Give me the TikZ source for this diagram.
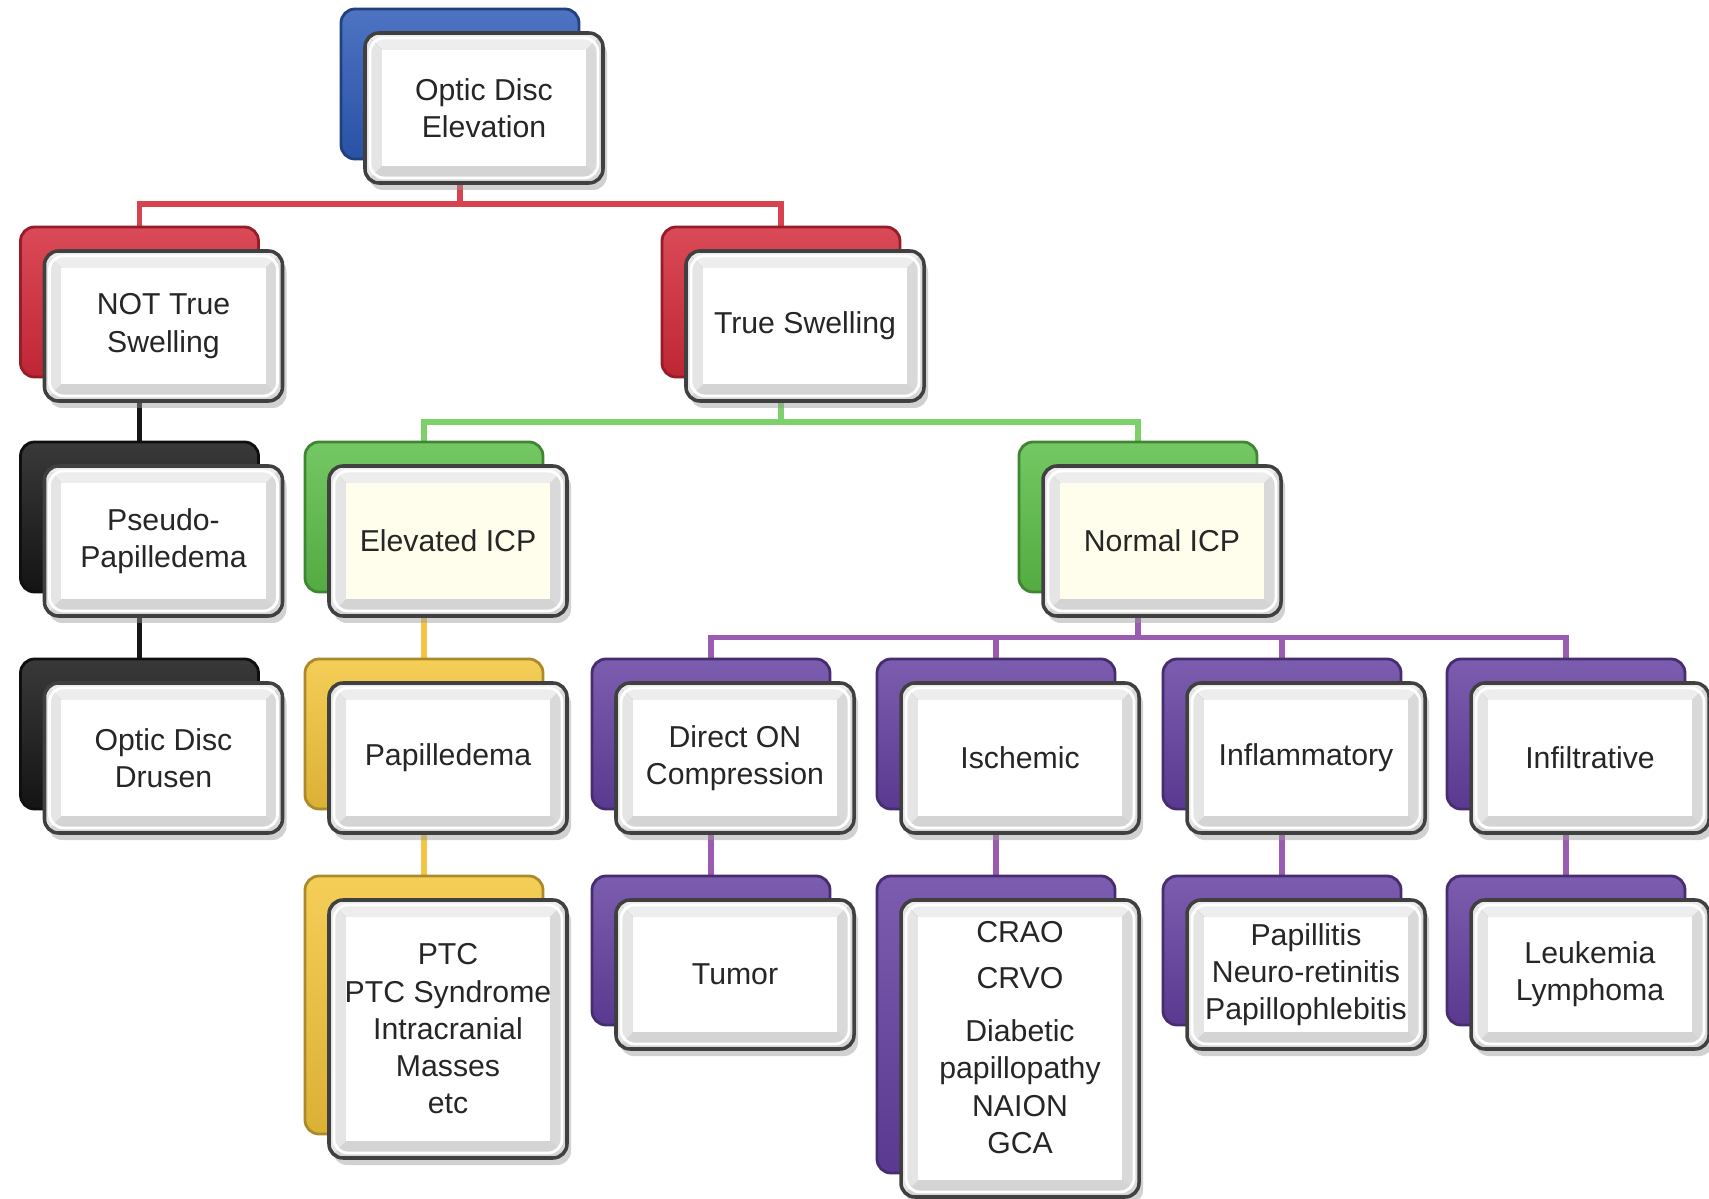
\documentclass[tikz,border=0pt]{standalone}
\usepackage{fontspec}
\setmainfont{Liberation Sans}
\usepackage{xcolor}
\usepackage{tikz}
\usetikzlibrary{shapes,shadows,backgrounds,calc}

\definecolor{boxblue}{HTML}{2E5BB7}
\definecolor{boxred}{HTML}{D42A3A}
\definecolor{boxblack}{HTML}{161616}
\definecolor{boxgreen}{HTML}{5CBE48}
\definecolor{boxgold}{HTML}{F3C53A}
\definecolor{boxpurple}{HTML}{6440A0}
\definecolor{boxcream}{HTML}{FFFDEB}
\definecolor{linered}{HTML}{D8434F}
\definecolor{linegreen}{HTML}{7CD16A}
\definecolor{linegold}{HTML}{F4C542}
\definecolor{linepurple}{HTML}{9A5CB0}

\tikzset{
  back/.style={rounded corners=1.4mm, minimum width=23.8mm, minimum height=15mm,
    draw=#1!70!black, line width=0.8pt, top color=#1!85!white, bottom color=#1!90!black},
  bevelbox/.style={rounded corners=1.4mm, minimum width=23.8mm, minimum height=15mm,
    draw=black!75, line width=1pt, text=black!85, align=center,
    font=\fontsize{8.6}{10.6}\selectfont,
    drop shadow={shadow xshift=0.4mm, shadow yshift=-0.7mm, fill=black!40, opacity=0.45},
    path picture={
      \path (path picture bounding box.north west) coordinate (pA)
            (path picture bounding box.north east) coordinate (pB)
            (path picture bounding box.south east) coordinate (pC)
            (path picture bounding box.south west) coordinate (pD);
      \path ([shift={(1.7mm,-1.7mm)}]pA) coordinate (qA)
            ([shift={(-1.7mm,-1.7mm)}]pB) coordinate (qB)
            ([shift={(-1.7mm,1.7mm)}]pC) coordinate (qC)
            ([shift={(1.7mm,1.7mm)}]pD) coordinate (qD);
      \fill[sharp corners,gray!14] (pA) -- (pB) -- (qB) -- (qA) -- cycle;
      \fill[sharp corners,gray!30] (pB) -- (pC) -- (qC) -- (qB) -- cycle;
      \fill[sharp corners,gray!34] (pC) -- (pD) -- (qD) -- (qC) -- cycle;
      \fill[sharp corners,gray!20] (pD) -- (pA) -- (qA) -- (qD) -- cycle;
      \draw[white, line width=0.8pt] ([shift={(0.5mm,-0.5mm)}]pA) rectangle ([shift={(-0.5mm,0.5mm)}]pC);
      \fill[sharp corners,#1] (qA) rectangle (qC);
    }},
  front/.style={bevelbox=white},
  frontc/.style={bevelbox=boxcream},
  link/.style={line width=0.55mm},
}

\begin{document}
\begin{tikzpicture}[x=1mm,y=-1mm]
    \useasboundingbox (0,0) rectangle (170.9,119.9);

    % level 0
    \node[back=boxblue] (top-b) at (46.0,8.4) {};
    \node[front] (top) at (48.4,10.8) {Optic Disc\\Elevation};

    % level 1
    \node[back=boxred] (nts-b) at (13.95,30.2) {};
    \node[front] (nts) at (16.35,32.6) {NOT True\\Swelling};
    \node[back=boxred] (ts-b) at (78.1,30.2) {};
    \node[front] (ts) at (80.5,32.6) {True Swelling};

    % level 2
    \node[back=boxblack] (pseudo-b) at (13.95,51.7) {};
    \node[front] (pseudo) at (16.35,54.1) {Pseudo-\\Papilledema};
    \node[back=boxgreen] (elev-b) at (42.4,51.7) {};
    \node[frontc] (elev) at (44.8,54.1) {Elevated ICP};
    \node[back=boxgreen] (normal-b) at (113.8,51.7) {};
    \node[frontc] (normal) at (116.2,54.1) {Normal ICP};

    % level 3
    \node[back=boxblack] (drusen-b) at (13.95,73.4) {};
    \node[front] (drusen) at (16.35,75.8) {Optic Disc\\Drusen};
    \node[back=boxgold] (papill-b) at (42.4,73.4) {};
    \node[front] (papill) at (44.8,75.8) {Papilledema};
    \node[back=boxpurple] (direct-b) at (71.1,73.4) {};
    \node[front] (direct) at (73.5,75.8) {Direct ON\\Compression};
    \node[back=boxpurple] (isch-b) at (99.6,73.4) {};
    \node[front] (isch) at (102.0,75.8) {Ischemic};
    \node[back=boxpurple] (inflam-b) at (128.2,73.4) {};
    \node[front] (inflam) at (130.6,75.8) {Inflammatory};
    \node[back=boxpurple] (infil-b) at (156.6,73.4) {};
    \node[front] (infil) at (159.0,75.8) {Infiltrative};

    % level 4
    \node[back=boxgold, minimum height=25.8mm] (ptc-b) at (42.4,100.5) {};
    \node[front, minimum height=25.8mm] (ptc) at (44.8,102.9) {PTC\\PTC Syndrome\\Intracranial\\Masses\\etc};
    \node[back=boxpurple, minimum height=14.9mm] (tumor-b) at (71.1,95.05) {};
    \node[front, minimum height=14.9mm] (tumor) at (73.5,97.45) {Tumor};
    \node[back=boxpurple, minimum height=29.7mm] (ischc-b) at (99.6,102.45) {};
    \node[front, minimum height=29.7mm, text depth=6.4pt] (ischc) at (102.0,104.85) {CRAO\\[2.5pt]CRVO\\[4.6pt]Diabetic\\papillopathy\\NAION\\GCA};
    \node[back=boxpurple, minimum height=14.9mm] (inflamc-b) at (128.2,95.05) {};
    \node[front, minimum height=14.9mm] (inflamc) at (130.6,97.45) {Papillitis\\Neuro-retinitis\\Papillophlebitis};
    \node[back=boxpurple, minimum height=14.9mm] (leuk-b) at (156.6,95.05) {};
    \node[front, minimum height=14.9mm] (leuk) at (159.0,97.45) {Leukemia\\Lymphoma};

    % buses
    \coordinate (bus1) at (0,20.4);
    \coordinate (bus2) at (0,42.2);
    \coordinate (bus3) at (0,63.75);

    \begin{scope}[on background layer]
    \draw[link,linered] (top-b) -- (top-b |- bus1) -| (nts-b);
    \draw[link,linered] (top-b |- bus1) -| (ts-b);
    \draw[link,boxblack] (nts-b) -- (pseudo-b);
    \draw[link,boxblack] (pseudo-b) -- (drusen-b);
    \draw[link,linegreen] (ts-b) -- (ts-b |- bus2) -| (elev-b);
    \draw[link,linegreen] (ts-b |- bus2) -| (normal-b);
    \draw[link,linegold] (elev-b) -- (papill-b);
    \draw[link,linegold] (papill-b) -- (ptc-b);
    \draw[link,linepurple] (normal-b) -- (normal-b |- bus3) -| (direct-b);
    \draw[link,linepurple] (normal-b |- bus3) -| (isch-b);
    \draw[link,linepurple] (normal-b |- bus3) -| (inflam-b);
    \draw[link,linepurple] (normal-b |- bus3) -| (infil-b);
    \draw[link,linepurple] (direct-b) -- (tumor-b);
    \draw[link,linepurple] (isch-b) -- (ischc-b);
    \draw[link,linepurple] (inflam-b) -- (inflamc-b);
    \draw[link,linepurple] (infil-b) -- (leuk-b);
    \end{scope}
\end{tikzpicture}
\end{document}
